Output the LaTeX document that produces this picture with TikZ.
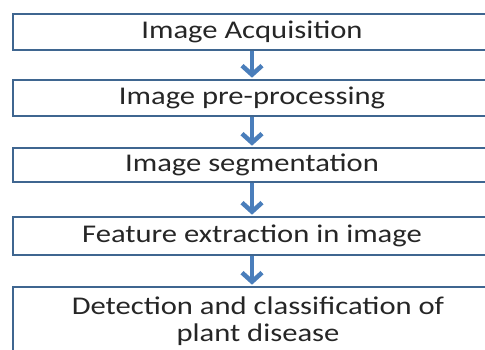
\documentclass[tikz,border=0pt]{standalone}
\usepackage{fontspec}
\newfontfamily\boxfont[FakeStretch=1.2]{Carlito}
\usetikzlibrary{arrows.meta}
\definecolor{boxline}{HTML}{3F6690}
\definecolor{arrowblue}{HTML}{4A7EBB}
\tikzset{
  stepbox/.style={draw=boxline, line width=2.6pt, fill=white, minimum width=478pt, inner sep=0pt,
    font=\boxfont\fontsize{25.5}{28}\selectfont, text=black!85, align=center},
  steptext/.style={inner sep=0pt, font=\boxfont\fontsize{25.5}{27}\selectfont, text=black!85, align=center},
  flowarrow/.style={draw=arrowblue, line width=4.5pt, -{Straight Barb[length=9pt,width=20pt,line width=4.5pt]}, shorten >=1pt}
}
\begin{document}
\begin{tikzpicture}[x=1pt,y=1pt]
\useasboundingbox (0,0) rectangle (485,350);
\clip (0,0) rectangle (485,350);
\node[stepbox, minimum height=36pt] (a) at (252,318) {Image Acquisition};
\node[stepbox, minimum height=36pt] (b) at (252,252) {Image pre-processing};
\node[stepbox, minimum height=34pt] (c) at (252,185) {Image segmentation};
\node[stepbox, minimum height=38pt] (d) at (252,114) {Feature extraction in image};
\node[stepbox, minimum height=80pt] (e) at (252,23) {};
\node[steptext] (etext) at (258,29) {Detection and classification of\\plant disease};
\draw[flowarrow] (a.south) -- (b.north);
\draw[flowarrow] (b.south) -- (c.north);
\draw[flowarrow] (c.south) -- (d.north);
\draw[flowarrow] (d.south) -- (e.north);
\end{tikzpicture}
\end{document}
